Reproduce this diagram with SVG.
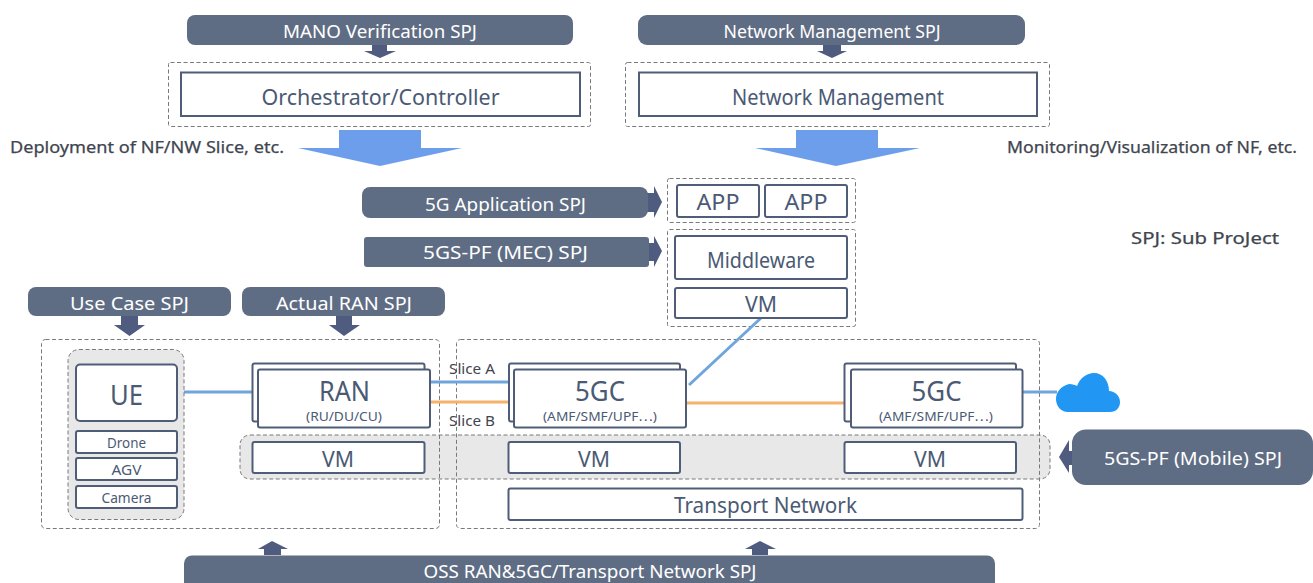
<svg xmlns="http://www.w3.org/2000/svg" width="1313" height="583" viewBox="0 0 1313 583">
<style>
text{font-family:"Noto Sans","Noto Sans CJK JP",sans-serif;text-anchor:middle;dominant-baseline:central;fill:#4a5a74}
.bar{fill:#5f6d84}
.bt{fill:#fff;font-size:17.500px}
.box{fill:#fff;stroke:#4f5d78;stroke-width:2}
.dash{fill:none;stroke:#77797d;stroke-width:1;stroke-dasharray:4 2.500}
.gray{fill:#e8e8e8;stroke:#77797d;stroke-width:1;stroke-dasharray:4 2.500}
.arr{fill:#4f5c80}
.big{fill:#6d9eeb}
.lab{fill:#3f4650;font-size:16px;stroke:#3f4650;stroke-width:.25}
.blue{stroke:#6fa5dc;stroke-width:3;fill:none}
.orange{stroke:#f4b26c;stroke-width:3;fill:none}
.m{font-size:22px}
.s{font-size:14px}
.t{font-size:27px}
.u{font-size:12.500px}
</style>
<rect width="1313" height="583" fill="#fff"/>

<g id="vm-band"><rect class="gray" x="240" y="435" width="810" height="44" rx="10"/></g>
<g id="containers">
<rect class="dash" x="168.500" y="62.500" width="422" height="64" rx="2"/>
<rect class="dash" x="625.500" y="62.500" width="424" height="64" rx="2"/>
<rect class="dash" x="667.500" y="178.500" width="188" height="44" rx="2"/>
<rect class="dash" x="667.500" y="229.500" width="188" height="97" rx="2"/>
<rect class="dash" x="41.500" y="339.500" width="398" height="189" rx="4"/>
<rect class="dash" x="456.500" y="339.500" width="583" height="189" rx="4"/>
</g>

<g id="connectors">
<path class="blue" d="M761 318L689 385"/>
<path class="blue" d="M177 392H252"/>
<path class="blue" d="M430 382H510"/>
<path class="orange" d="M430 402H510"/>
<path class="orange" d="M686 403H845"/>
<path class="blue" d="M1022 392H1057"/>
<path class="arr" d="M372 45H387V51H396L380 58L364 51H372Z"/>
<path class="arr" d="M823 45H841V51H847L832 58L817 51H823Z"/>
<path class="big" d="M339 130H421V148H462L380 166L298 148H339Z"/>
<path class="big" d="M796 130H878V148H920L836 166L755 148H796Z"/>
<path class="arr" d="M646 193H654V186L662 202L654 218V212H646Z"/>
<path class="arr" d="M646 243H654V236L662 251L654 267V261H646Z"/>
<path class="arr" d="M121 316H138V325H145L129.500 336L114 325H121Z"/>
<path class="arr" d="M336 316H352V325H360L344 336L329 325H336Z"/>
<path class="arr" d="M264 555V549H258L272 541L288 549H281V555Z"/>
<path class="arr" d="M752 555V549H745L760 541L776 549H768V555Z"/>
<path class="arr" d="M1075 451H1069V440L1059 457L1069 473V465H1075Z"/>
</g>

<g id="mano-spj"><rect class="bar" x="187" y="15" width="386" height="30" rx="8"/><text class="bt" x="380" y="30.500" textLength="194" lengthAdjust="spacingAndGlyphs">MANO Verification SPJ</text></g>
<g id="nm-spj"><rect class="bar" x="638" y="15" width="387" height="30" rx="9"/><text class="bt" x="832" y="31" textLength="217" lengthAdjust="spacingAndGlyphs">Network Management SPJ</text></g>
<g id="orchestrator"><rect class="box" x="181" y="72.500" width="399" height="43.500"/><text class="m" x="380.500" y="95.500" textLength="238" lengthAdjust="spacingAndGlyphs">Orchestrator/Controller</text></g>
<g id="network-management"><rect class="box" x="639" y="72.500" width="398" height="43.500"/><text class="m" x="838" y="95.500" textLength="212" lengthAdjust="spacingAndGlyphs">Network Management</text></g>
<g id="deploy-label"><text class="lab" x="147" y="147" textLength="274" lengthAdjust="spacingAndGlyphs">Deployment of NF/NW Slice, etc.</text></g>
<g id="monitor-label"><text class="lab" x="1152" y="147" textLength="290" lengthAdjust="spacingAndGlyphs">Monitoring/Visualization of NF, etc.</text></g>
<g id="spj-note"><text class="lab" x="1205" y="238" textLength="148" lengthAdjust="spacingAndGlyphs">SPJ: Sub ProJect</text></g>

<g id="app-spj"><rect class="bar" x="362" y="187" width="286" height="31" rx="8"/><text class="bt" x="505.500" y="204" textLength="161" lengthAdjust="spacingAndGlyphs">5G Application SPJ</text></g>
<g id="mec-spj"><rect class="bar" x="364" y="237" width="285" height="30" rx="3"/><text class="bt" x="505.500" y="252" textLength="165" lengthAdjust="spacingAndGlyphs">5GS-PF (MEC) SPJ</text></g>
<g id="app1"><rect class="box" x="677" y="185" width="82" height="32" rx="2"/><text class="m" x="718" y="201" textLength="43" lengthAdjust="spacingAndGlyphs">APP</text></g>
<g id="app2"><rect class="box" x="765" y="185" width="82" height="32" rx="2"/><text class="m" x="806" y="201" textLength="43" lengthAdjust="spacingAndGlyphs">APP</text></g>
<g id="middleware"><rect class="box" x="675" y="236" width="172" height="43" rx="2"/><text class="m" x="761" y="259" textLength="108" lengthAdjust="spacingAndGlyphs">Middleware</text></g>
<g id="vm-top"><rect class="box" x="675" y="288" width="172" height="30" rx="2"/><text class="m" x="761" y="303" textLength="32" lengthAdjust="spacingAndGlyphs">VM</text></g>

<g id="usecase-spj"><rect class="bar" x="28" y="287" width="203" height="29" rx="8"/><text class="bt" x="129.500" y="303" textLength="119" lengthAdjust="spacingAndGlyphs">Use Case SPJ</text></g>
<g id="ran-spj"><rect class="bar" x="242" y="287" width="203" height="29" rx="8"/><text class="bt" x="344" y="303" textLength="136" lengthAdjust="spacingAndGlyphs">Actual RAN SPJ</text></g>

<g id="ue-group"><rect class="gray" x="68" y="349.500" width="116" height="170" rx="11"/></g>
<g id="ue"><rect class="box" x="76" y="364.500" width="101" height="56.500" rx="4"/><text class="t" x="126.500" y="394" textLength="33" lengthAdjust="spacingAndGlyphs">UE</text></g>
<g id="drone"><rect class="box" x="76" y="431" width="101" height="22" rx="2"/><text class="s" x="126.500" y="442.500" textLength="39" lengthAdjust="spacingAndGlyphs">Drone</text></g>
<g id="agv"><rect class="box" x="76" y="458" width="101" height="22" rx="2"/><text class="s" x="126.500" y="469" textLength="30" lengthAdjust="spacingAndGlyphs">AGV</text></g>
<g id="camera"><rect class="box" x="76" y="486" width="101" height="22" rx="2"/><text class="s" x="126.500" y="497" textLength="50" lengthAdjust="spacingAndGlyphs">Camera</text></g>

<g id="ran"><rect class="box" x="252.500" y="363.500" width="172" height="58" rx="2"/><rect class="box" x="258" y="369.500" width="172" height="58" rx="2"/><text class="t" x="344.500" y="390" textLength="51" lengthAdjust="spacingAndGlyphs">RAN</text><text class="u" x="344" y="416.500" textLength="76" lengthAdjust="spacingAndGlyphs">(RU/DU/CU)</text></g>
<g id="slice-a"><text class="s" x="472" y="368" style="fill:#3f4650" textLength="46" lengthAdjust="spacingAndGlyphs">Slice A</text></g>
<g id="slice-b"><text class="s" x="472" y="420" style="fill:#3f4650" textLength="46" lengthAdjust="spacingAndGlyphs">Slice B</text></g>
<g id="fivegc-a"><rect class="box" x="509" y="363.500" width="171" height="58" rx="2"/><rect class="box" x="514" y="369.500" width="172" height="58" rx="2"/><text class="t" x="600" y="390" textLength="50" lengthAdjust="spacingAndGlyphs">5GC</text><text class="u" x="600" y="416.500" textLength="114" lengthAdjust="spacingAndGlyphs">(AMF/SMF/UPF⋯)</text></g>
<g id="fivegc-b"><rect class="box" x="844.500" y="363.500" width="171.500" height="58" rx="2"/><rect class="box" x="851" y="369.500" width="171.500" height="58" rx="2"/><text class="t" x="936.500" y="390" textLength="50" lengthAdjust="spacingAndGlyphs">5GC</text><text class="u" x="936" y="416.500" textLength="114" lengthAdjust="spacingAndGlyphs">(AMF/SMF/UPF⋯)</text></g>
<g id="vm-ran"><rect class="box" x="252.500" y="442" width="172" height="31" rx="2"/><text class="m" x="338" y="458" textLength="32" lengthAdjust="spacingAndGlyphs">VM</text></g>
<g id="vm-5gc-a"><rect class="box" x="508.500" y="442" width="171.500" height="31" rx="2"/><text class="m" x="594" y="458" textLength="32" lengthAdjust="spacingAndGlyphs">VM</text></g>
<g id="vm-5gc-b"><rect class="box" x="844.500" y="442" width="171.500" height="31" rx="2"/><text class="m" x="930" y="458" textLength="32" lengthAdjust="spacingAndGlyphs">VM</text></g>
<g id="transport"><rect class="box" x="508.500" y="488.500" width="514" height="31.500" rx="2"/><text class="m" x="765.500" y="504" textLength="183" lengthAdjust="spacingAndGlyphs">Transport Network</text></g>

<g id="cloud"><path fill="#2196f3" d="M1068 412C1061 412 1056 406 1056 399C1056 392 1061 386 1069 384C1073 384 1075 385 1077 386C1080 378 1087 373 1094 373C1103 373 1109 381 1109 391C1115 391 1120 396 1120 402C1120 408 1116 412 1110 412Z"/></g>
<g id="mobile-spj"><rect class="bar" x="1072" y="429.500" width="241" height="55.500" rx="14"/><text class="bt" x="1193" y="458" textLength="178" lengthAdjust="spacingAndGlyphs">5GS-PF (Mobile) SPJ</text></g>
<g id="oss-spj"><rect class="bar" x="184" y="555.500" width="811" height="40" rx="8"/><text class="bt" x="590" y="571" textLength="333" lengthAdjust="spacingAndGlyphs">OSS RAN&amp;5GC/Transport Network SPJ</text></g>
</svg>
